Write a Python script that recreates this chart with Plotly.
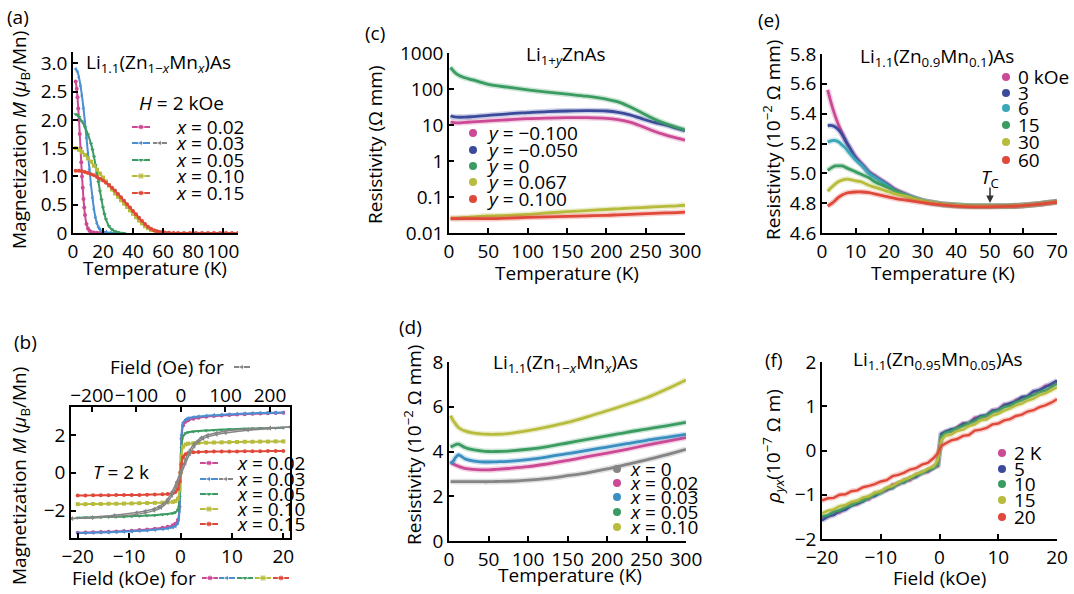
import plotly.graph_objects as go

FONT = "Open Sans"
FS = 19
W, H = 1074, 594

# ---------------- colours ----------------
C_MAG = "#cc4a95"
C_BLUE = "#4b8fd1"
C_GREEN = "#3b9c62"
C_OLIVE = "#b8bc3c"
C_RED = "#e0483a"
C_GREY = "#858585"
C_NAVY = "#3c4a9c"
C_TEAL = "#3aa6b8"
C_STEEL = "#3a8fc0"

# ---------------- (a) M vs T, H = 2 kOe ----------------
T_a_002 = [1.8, 2.5, 3, 3.5, 4, 4.5, 5, 5.5, 6, 6.5, 7, 7.5, 8, 9, 10, 11, 12, 14, 16, 18, 20]
M_a_002 = [2.68, 2.55, 2.4, 2.2, 2.0, 1.75, 1.5, 1.25, 1.0, 0.8, 0.6, 0.45, 0.32, 0.16, 0.08, 0.04, 0.02, 0.01, 0.005, 0.0, 0.0]
T_a_003 = [1.8, 3, 4, 5, 6, 7, 8, 9, 10, 11, 12, 13, 14, 15, 16, 17, 18, 20, 22, 25, 28]
M_a_003 = [2.9, 2.85, 2.75, 2.6, 2.42, 2.2, 1.95, 1.68, 1.4, 1.12, 0.85, 0.62, 0.42, 0.27, 0.17, 0.1, 0.06, 0.03, 0.015, 0.005, 0.0]
T_a_005 = [1.8, 3, 4, 6, 8, 10, 12, 13, 14, 15, 16, 17, 18, 19, 20, 21, 22, 24, 26, 28, 30, 34]
M_a_005 = [2.1, 2.08, 2.05, 1.97, 1.87, 1.74, 1.58, 1.47, 1.35, 1.2, 1.05, 0.9, 0.74, 0.59, 0.45, 0.33, 0.24, 0.12, 0.06, 0.03, 0.015, 0.0]
T_a_010 = [1.8, 4, 6, 8, 10, 12, 14, 16, 18, 20, 22, 24, 26, 28, 30, 32, 34, 36, 38, 40, 42, 44, 46, 48, 50, 52, 55, 58, 62]
M_a_010 = [1.5, 1.47, 1.43, 1.38, 1.32, 1.26, 1.19, 1.12, 1.05, 0.98, 0.91, 0.84, 0.77, 0.7, 0.64, 0.58, 0.52, 0.46, 0.4, 0.34, 0.28, 0.22, 0.17, 0.12, 0.085, 0.055, 0.03, 0.012, 0.0]
T_a_015 = [1.8, 4, 6, 8, 10, 12, 14, 16, 18, 20, 22, 24, 26, 28, 30, 32, 34, 36, 38, 40, 42, 44, 46, 48, 50, 52, 54, 56, 58, 61, 64, 67, 70, 74, 78, 82, 86, 90, 94, 98, 102, 106, 110]
M_a_015 = [1.1, 1.1, 1.09, 1.08, 1.06, 1.04, 1.02, 0.99, 0.96, 0.93, 0.89, 0.85, 0.8, 0.75, 0.69, 0.63, 0.57, 0.51, 0.45, 0.39, 0.33, 0.27, 0.21, 0.16, 0.11, 0.075, 0.05, 0.03, 0.018, 0.008, 0.003, 0, 0, 0, 0, 0, 0, 0, 0, 0, 0, 0, 0]

# ---------------- (b) M vs H at T = 2 K ----------------
H_b = [-20, -18.5, -17, -15.5, -14, -12.5, -11, -9.5, -8, -6.5, -5, -3.5, -2.5, -1.5, -1, -0.5, -0.2, 0,
       0.2, 0.5, 1, 1.5, 2.5, 3.5, 5, 6.5, 8, 9.5, 11, 12.5, 14, 15.5, 17, 18.5, 20]
M_b_002 = [-3.17, -3.16, -3.15, -3.13, -3.12, -3.1, -3.08, -3.06, -3.03, -3.0, -2.96, -2.91, -2.86, -2.78, -2.7, -2.5, -1.8, 0,
           1.8, 2.5, 2.7, 2.78, 2.86, 2.91, 2.96, 3.0, 3.03, 3.06, 3.08, 3.1, 3.12, 3.13, 3.15, 3.16, 3.17]
M_b_003 = [-3.19, -3.18, -3.17, -3.16, -3.15, -3.13, -3.11, -3.09, -3.07, -3.05, -3.02, -2.98, -2.94, -2.88, -2.82, -2.65, -2.0, 0,
           2.0, 2.65, 2.82, 2.88, 2.94, 2.98, 3.02, 3.05, 3.07, 3.09, 3.11, 3.13, 3.15, 3.16, 3.17, 3.18, 3.19]
M_b_005 = [-2.38, -2.37, -2.36, -2.35, -2.34, -2.33, -2.32, -2.3, -2.28, -2.26, -2.24, -2.21, -2.18, -2.14, -2.09, -1.95, -1.3, 0,
           1.3, 1.95, 2.09, 2.14, 2.18, 2.21, 2.24, 2.26, 2.28, 2.3, 2.32, 2.33, 2.34, 2.35, 2.36, 2.37, 2.38]
M_b_010 = [-1.66, -1.66, -1.65, -1.65, -1.64, -1.64, -1.63, -1.62, -1.61, -1.6, -1.59, -1.58, -1.56, -1.54, -1.5, -1.38, -0.9, 0,
           0.9, 1.38, 1.5, 1.54, 1.56, 1.58, 1.59, 1.6, 1.61, 1.62, 1.63, 1.64, 1.64, 1.65, 1.65, 1.66, 1.66]
M_b_015 = [-1.2, -1.2, -1.19, -1.19, -1.19, -1.18, -1.18, -1.17, -1.17, -1.16, -1.15, -1.14, -1.12, -1.08, -1.02, -0.85, -0.45, 0,
           0.45, 0.82, 0.98, 1.04, 1.08, 1.1, 1.11, 1.12, 1.12, 1.13, 1.13, 1.14, 1.14, 1.14, 1.15, 1.15, 1.15]
# x = 0.03 loop on the Oe scale (descending and ascending branches)
H_oe_down = [245, 200, 150, 100, 80, 60, 45, 30, 20, 10, 0, -10, -20, -30, -40, -50, -60, -80, -100, -150, -200, -245]
M_oe_down = [2.42, 2.38, 2.31, 2.2, 2.12, 2.0, 1.85, 1.55, 1.2, 0.7, 0.1, -0.5, -1.0, -1.4, -1.65, -1.8, -1.9, -2.02, -2.1, -2.25, -2.35, -2.42]
H_oe_up = [-245, -200, -150, -100, -80, -60, -45, -30, -20, -10, 0, 10, 20, 30, 40, 50, 60, 80, 100, 150, 200, 245]
M_oe_up = [-2.42, -2.38, -2.31, -2.2, -2.12, -2.0, -1.85, -1.55, -1.2, -0.7, -0.1, 0.5, 1.0, 1.4, 1.65, 1.8, 1.9, 2.02, 2.1, 2.25, 2.35, 2.42]

# ---------------- (c) Li1+yZnAs resistivity ----------------
T_c = [2, 5, 10, 20, 30, 50, 75, 100, 125, 150, 175, 200, 215, 230, 245, 260, 275, 290, 300]
R_c_m0100 = [12, 11.8, 11.5, 11.8, 12.2, 13, 14, 15, 15.6, 16, 16, 15.3, 14, 12, 9.2, 6.8, 5.3, 4.3, 3.8]
R_c_m0050 = [18, 17, 16.5, 16.5, 17, 18.5, 20.5, 22, 23.5, 24.5, 25, 24.5, 22.5, 19, 15, 12, 10, 8, 7]
R_c_0 = [400, 330, 260, 205, 180, 135, 112, 95, 82, 72, 63, 52, 44, 32, 22, 15, 11, 8.5, 7.3]
R_c_0067 = [0.026, 0.026, 0.026, 0.027, 0.028, 0.03, 0.031, 0.033, 0.036, 0.039, 0.042, 0.045, 0.047, 0.049, 0.051, 0.053, 0.055, 0.057, 0.059]
R_c_0100 = [0.025, 0.025, 0.025, 0.025, 0.025, 0.025, 0.026, 0.027, 0.028, 0.029, 0.03, 0.031, 0.032, 0.033, 0.034, 0.035, 0.036, 0.037, 0.038]

# ---------------- (d) Li1.1(Zn1-xMnx)As resistivity ----------------
T_d = [2, 5, 8, 10, 12, 15, 20, 30, 40, 50, 60, 75, 100, 125, 150, 175, 200, 225, 250, 275, 300]
R_d_0 = [2.65, 2.65, 2.65, 2.65, 2.65, 2.65, 2.65, 2.65, 2.65, 2.65, 2.66, 2.67, 2.72, 2.8, 2.92, 3.05, 3.22, 3.42, 3.63, 3.85, 4.1]
R_d_002 = [3.55, 3.45, 3.4, 3.37, 3.34, 3.3, 3.25, 3.2, 3.18, 3.18, 3.2, 3.24, 3.32, 3.45, 3.6, 3.77, 3.93, 4.1, 4.28, 4.45, 4.62]
R_d_003 = [3.45, 3.55, 3.72, 3.8, 3.85, 3.8, 3.68, 3.58, 3.54, 3.53, 3.54, 3.56, 3.64, 3.76, 3.9, 4.05, 4.2, 4.35, 4.5, 4.63, 4.77]
R_d_005 = [4.2, 4.25, 4.3, 4.33, 4.33, 4.28, 4.18, 4.08, 4.03, 4.0, 4.0, 4.02, 4.1, 4.22, 4.38, 4.54, 4.7, 4.86, 5.0, 5.15, 5.3]
R_d_010 = [5.6, 5.4, 5.25, 5.15, 5.07, 5.0, 4.92, 4.83, 4.79, 4.77, 4.77, 4.8, 4.93, 5.1, 5.3, 5.55, 5.82, 6.1, 6.4, 6.78, 7.2]

# ---------------- (e) Li1.1(Zn0.9Mn0.1)As in field ----------------
T_e = [1.7, 3, 4, 5, 6, 7, 8, 10, 12, 14, 16, 18, 20, 22, 25, 28, 31, 35, 40, 45, 50, 55, 60, 65, 70]
R_e_0 = [5.56, 5.45, 5.38, 5.32, 5.27, 5.22, 5.18, 5.11, 5.06, 5.01, 4.98, 4.95, 4.92, 4.89, 4.86, 4.83, 4.81, 4.795, 4.785, 4.78, 4.78, 4.78, 4.785, 4.795, 4.81]
R_e_3 = [5.32, 5.32, 5.31, 5.29, 5.26, 5.22, 5.18, 5.105, 5.055, 5.005, 4.975, 4.945, 4.915, 4.885, 4.855, 4.83, 4.81, 4.795, 4.785, 4.78, 4.78, 4.78, 4.785, 4.795, 4.81]
R_e_6 = [5.21, 5.22, 5.22, 5.21, 5.19, 5.17, 5.14, 5.09, 5.05, 5.0, 4.97, 4.94, 4.91, 4.88, 4.855, 4.83, 4.81, 4.795, 4.785, 4.78, 4.78, 4.78, 4.785, 4.795, 4.81]
R_e_15 = [5.02, 5.04, 5.05, 5.05, 5.05, 5.04, 5.03, 5.01, 4.99, 4.97, 4.94, 4.92, 4.9, 4.88, 4.85, 4.83, 4.81, 4.795, 4.785, 4.78, 4.78, 4.78, 4.785, 4.795, 4.81]
R_e_30 = [4.88, 4.91, 4.93, 4.945, 4.955, 4.96, 4.96, 4.95, 4.94, 4.92, 4.905, 4.89, 4.875, 4.86, 4.845, 4.825, 4.81, 4.795, 4.785, 4.78, 4.78, 4.78, 4.785, 4.795, 4.81]
R_e_60 = [4.78, 4.8, 4.82, 4.84, 4.855, 4.865, 4.87, 4.875, 4.875, 4.87, 4.86, 4.85, 4.84, 4.83, 4.82, 4.81, 4.8, 4.79, 4.78, 4.775, 4.775, 4.778, 4.783, 4.793, 4.808]

# ---------------- (f) Hall resistivity ----------------
H_f = [-20, -19, -18, -17, -16, -15, -14, -13, -12, -11, -10, -9, -8, -7, -6, -5, -4, -3, -2, -1, -0.3,
       0.3, 1, 2, 3, 4, 5, 6, 7, 8, 9, 10, 11, 12, 13, 14, 15, 16, 17, 18, 19, 20]
P_f_2 = [-1.51, -1.50, -1.38, -1.40, -1.29, -1.21, -1.21, -1.10, -1.10, -0.97, -0.94, -0.90, -0.77, -0.77, -0.66, -0.67, -0.55, -0.50, -0.48, -0.36, -0.35,
         0.35, 0.42, 0.42, 0.53, 0.61, 0.61, 0.74, 0.74, 0.78, 0.90, 0.92, 1.04, 1.02, 1.14, 1.19, 1.21, 1.33, 1.34, 1.46, 1.47, 1.54]
P_f_5 = [-1.58, -1.49, -1.46, -1.37, -1.34, -1.25, -1.20, -1.15, -1.05, -1.03, -0.95, -0.88, -0.85, -0.74, -0.72, -0.62, -0.60, -0.50, -0.47, -0.40, -0.33,
         0.38, 0.43, 0.48, 0.50, 0.60, 0.62, 0.70, 0.78, 0.80, 0.90, 0.92, 1.02, 1.07, 1.11, 1.21, 1.23, 1.33, 1.37, 1.43, 1.51, 1.58]
P_f_10 = [-1.49, -1.46, -1.38, -1.35, -1.28, -1.24, -1.17, -1.13, -1.07, -0.99, -0.96, -0.86, -0.83, -0.74, -0.70, -0.63, -0.56, -0.52, -0.44, -0.40, -0.32,
          0.32, 0.40, 0.44, 0.51, 0.55, 0.62, 0.66, 0.75, 0.78, 0.86, 0.90, 0.98, 1.01, 1.09, 1.13, 1.20, 1.25, 1.32, 1.35, 1.44, 1.51]
P_f_15 = [-1.42, -1.36, -1.33, -1.26, -1.23, -1.16, -1.13, -1.06, -1.03, -0.95, -0.92, -0.84, -0.80, -0.72, -0.66, -0.61, -0.53, -0.49, -0.41, -0.36, -0.22,
          0.23, 0.33, 0.36, 0.44, 0.47, 0.55, 0.59, 0.68, 0.70, 0.79, 0.83, 0.90, 0.95, 1.02, 1.06, 1.13, 1.17, 1.25, 1.29, 1.36, 1.43]
P_f_20 = [-1.13, -1.08, -1.07, -1.00, -0.99, -0.92, -0.90, -0.83, -0.80, -0.76, -0.70, -0.67, -0.58, -0.55, -0.50, -0.43, -0.40, -0.32, -0.28, -0.17, -0.06,
          0.10, 0.16, 0.23, 0.26, 0.33, 0.35, 0.45, 0.47, 0.51, 0.59, 0.61, 0.68, 0.71, 0.78, 0.81, 0.88, 0.91, 0.98, 1.02, 1.08, 1.16]

# ---------------- labels ----------------
X_LABELS = ["<i>x</i> = 0.02", "<i>x</i> = 0.03", "<i>x</i> = 0.05", "<i>x</i> = 0.10", "<i>x</i> = 0.15"]
Y_LABELS = ["<i>y</i> = −0.100", "<i>y</i> = −0.050", "<i>y</i> = 0", "<i>y</i> = 0.067", "<i>y</i> = 0.100"]
D_LABELS = ["<i>x</i> = 0", "<i>x</i> = 0.02", "<i>x</i> = 0.03", "<i>x</i> = 0.05", "<i>x</i> = 0.10"]
E_LABELS = ["0 kOe", "3", "6", "15", "30", "60"]
F_LABELS = ["2 K", "5", "10", "15", "20"]

MN_COLORS = [C_MAG, C_BLUE, C_GREEN, C_OLIVE, C_RED]
MN_SYMBOLS = ["circle", "triangle-left", "triangle-down", "square", "circle"]

fig = go.Figure()


def px_x(p):
    return p / W


def px_y(p):
    return 1 - p / H


def axis(x0, x1, **kw):
    d = dict(domain=[px_x(x0), px_x(x1)], showline=True, linecolor="black", linewidth=1.5,
             ticks="inside", ticklen=5, tickwidth=1.5, tickcolor="black", showgrid=False,
             zeroline=False, automargin=False, tickangle=0,
             tickfont=dict(size=FS, color="black", family=FONT), fixedrange=True)
    d.update(kw)
    return d


def yaxis(y0, y1, **kw):
    d = dict(domain=[px_y(y1), px_y(y0)], showline=True, linecolor="black", linewidth=1.5,
             ticks="inside", ticklen=5, tickwidth=1.5, tickcolor="black", showgrid=False,
             zeroline=False, automargin=False,
             tickfont=dict(size=FS, color="black", family=FONT), fixedrange=True)
    d.update(kw)
    return d


def soft_line(x, y, color, xa, ya, width=2.8, shape="spline"):
    # faint wide stroke under the curve, then the curve itself
    fig.add_trace(go.Scatter(x=x, y=y, mode="lines", opacity=0.25,
                             line=dict(color=color, width=width + 3, shape=shape), xaxis=xa, yaxis=ya))
    fig.add_trace(go.Scatter(x=x, y=y, mode="lines",
                             line=dict(color=color, width=width, shape=shape), xaxis=xa, yaxis=ya))


# (a)
for T, M, c, s in zip([T_a_002, T_a_003, T_a_005, T_a_010, T_a_015],
                      [M_a_002, M_a_003, M_a_005, M_a_010, M_a_015], MN_COLORS, MN_SYMBOLS):
    fig.add_trace(go.Scatter(x=T, y=M, mode="lines+markers", line=dict(color=c, width=2, shape="spline"),
                             marker=dict(symbol=s, size=4, color=c), xaxis="x", yaxis="y"))

# (b)
for Hx, M in [(H_oe_down, M_oe_down), (H_oe_up, M_oe_up)]:
    fig.add_trace(go.Scatter(x=Hx, y=M, mode="lines+markers", line=dict(color=C_GREY, width=1.5, shape="spline"),
                             marker=dict(symbol="triangle-left", size=4, color=C_GREY), xaxis="x8", yaxis="y2"))
for M, c, s in zip([M_b_002, M_b_003, M_b_005, M_b_010, M_b_015], MN_COLORS, MN_SYMBOLS):
    fig.add_trace(go.Scatter(x=H_b, y=M, mode="lines+markers", line=dict(color=c, width=2, shape="spline"),
                             marker=dict(symbol=s, size=4, color=c), xaxis="x2", yaxis="y2"))

# (c)
C_COLORS = [C_MAG, C_NAVY, C_GREEN, C_OLIVE, C_RED]
for R, c in zip([R_c_m0100, R_c_m0050, R_c_0, R_c_0067, R_c_0100], C_COLORS):
    soft_line(T_c, R, c, "x3", "y3")

# (d)
D_COLORS = [C_GREY, C_MAG, C_STEEL, C_GREEN, C_OLIVE]
for R, c in zip([R_d_0, R_d_002, R_d_003, R_d_005, R_d_010], D_COLORS):
    soft_line(T_d, R, c, "x4", "y4")

# (e)
E_COLORS = [C_MAG, C_NAVY, C_TEAL, C_GREEN, C_OLIVE, C_RED]
for R, c in zip([R_e_0, R_e_3, R_e_6, R_e_15, R_e_30, R_e_60], E_COLORS):
    soft_line(T_e, R, c, "x5", "y5")

# (f)
F_COLORS = [C_MAG, C_NAVY, C_GREEN, C_OLIVE, C_RED]
for P, c in zip([P_f_2, P_f_5, P_f_10, P_f_15, P_f_20], F_COLORS):
    soft_line(H_f, P, c, "x6", "y6", width=2.4, shape="linear")

# ---------------- legend glyphs on a pixel canvas ----------------
def glyph(xc, yc, color, symbol, half=9):
    fig.add_trace(go.Scatter(x=[xc - half, xc, xc + half], y=[yc, yc, yc], mode="lines+markers",
                             line=dict(color=color, width=2),
                             marker=dict(symbol=symbol, size=[0, 6, 0], color=color),
                             xaxis="x7", yaxis="y7"))


def dot(xc, yc, color):
    fig.add_trace(go.Scatter(x=[xc], y=[yc], mode="markers", marker=dict(size=8, color=color),
                             xaxis="x7", yaxis="y7"))


ann = []


def txt(x, y, s, xanchor="left", size=FS, angle=0):
    ann.append(dict(x=x, y=y, xref="x7", yref="y7", text=s, showarrow=False, xanchor=xanchor,
                    yanchor="middle", textangle=angle, borderpad=0,
                    font=dict(size=size, color="black", family=FONT)))


A_ROWS = [127, 143, 160, 176, 193]
for i, (c, s) in enumerate(zip(MN_COLORS, MN_SYMBOLS)):
    glyph(141, A_ROWS[i], c, s)
    txt(175, A_ROWS[i], X_LABELS[i])
glyph(160, A_ROWS[1], C_GREY, "triangle-left", half=7)

B_ROWS = [463, 479, 494, 509, 524]
for i, (c, s) in enumerate(zip(MN_COLORS, MN_SYMBOLS)):
    glyph(209, B_ROWS[i], c, s)
    txt(236, B_ROWS[i], X_LABELS[i])
glyph(226, B_ROWS[1], C_GREY, "triangle-left", half=7)
glyph(242, 367, C_GREY, "triangle-left", half=8)
for xc, c, s in zip([210, 227, 245, 263, 281], MN_COLORS, MN_SYMBOLS):
    glyph(xc, 578, c, s, half=8)

C_ROWS = [133, 150, 166, 182, 199]
for i, c in enumerate(C_COLORS):
    dot(473, C_ROWS[i], c)
    txt(486, C_ROWS[i], Y_LABELS[i])

D_ROWS = [469, 483, 497, 512, 527]
for i, c in enumerate(D_COLORS):
    dot(617, D_ROWS[i], c)
    txt(629, D_ROWS[i], D_LABELS[i])

E_ROWS = [77, 93, 108, 125, 142, 160]
for i, c in enumerate(E_COLORS):
    dot(1006, E_ROWS[i], c)
    txt(1017, E_ROWS[i], E_LABELS[i])

F_ROWS = [453, 469, 484, 500, 517]
for i, c in enumerate(F_COLORS):
    dot(1002, F_ROWS[i], c)
    txt(1013, F_ROWS[i], F_LABELS[i])

# panel letters
txt(6, 17, "(a)")
txt(13, 342, "(b)")
txt(364, 33, "(c)")
txt(398, 327, "(d)")
txt(757, 20, "(e)")
txt(764, 360, "(f)")

# in-panel titles
LI11 = "Li<sub>1.1</sub>(Zn<sub>1−<i>x</i></sub>Mn<sub><i>x</i></sub>)As"
txt(85, 63, LI11)
txt(138, 103, "<i>H</i> = 2 kOe")
txt(92, 472, "<i>T</i> = 2 k")
txt(566, 55, "Li<sub>1+<i>y</i></sub>ZnAs", xanchor="center")
txt(565, 363, LI11, xanchor="center")
txt(937, 57, "Li<sub>1.1</sub>(Zn<sub>0.9</sub>Mn<sub>0.1</sub>)As", xanchor="center")
txt(938, 360, "Li<sub>1.1</sub>(Zn<sub>0.95</sub>Mn<sub>0.05</sub>)As", xanchor="center")
txt(990, 178, "<i>T</i><sub>C</sub>", xanchor="center")
ann.append(dict(x=990, y=203, xref="x7", yref="y7", ax=990, ay=186, axref="x7", ayref="y7",
                text="", showarrow=True, arrowhead=2, arrowsize=1, arrowwidth=1.5, arrowcolor="#333333"))

# axis titles
txt(155, 268, "Temperature (K)", xanchor="center")
txt(567, 273, "Temperature (K)", xanchor="center")
txt(570, 575, "Temperature (K)", xanchor="center")
txt(943, 273, "Temperature (K)", xanchor="center")
txt(939, 578, "Field (kOe)", xanchor="center")
txt(167, 367, "Field (Oe) for", xanchor="center")
txt(134, 578, "Field (kOe) for", xanchor="center")
txt(20, 140, "Magnetization <i>M</i> (<i>μ</i><sub>B</sub>/Mn)", xanchor="center", angle=-90)
txt(20, 476, "Magnetization <i>M</i> (<i>μ</i><sub>B</sub>/Mn)", xanchor="center", angle=-90)
txt(375, 145, "Resistivity (Ω mm)", xanchor="center", angle=-90)
txt(413, 445, "Resistivity (10<sup>−2</sup> Ω mm)", xanchor="center", angle=-90)
txt(772, 140, "Resistivity (10<sup>−2</sup> Ω mm)", xanchor="center", angle=-90)
txt(773, 447, "<i>ρ</i><sub><i>yx</i></sub>(10<sup>−7</sup> Ω m)", xanchor="center", angle=-90)

fig.update_layout(
    template="none",
    width=W, height=H, margin=dict(l=0, r=0, t=0, b=0, autoexpand=False),
    paper_bgcolor="white", plot_bgcolor="rgba(0,0,0,0)", showlegend=False,
    font=dict(family=FONT, size=FS, color="black"),
    annotations=ann,
    # (a)
    xaxis=axis(73, 238, anchor="y", range=[0, 110], tickvals=[0, 20, 40, 60, 80, 100]),
    yaxis=yaxis(52, 233, anchor="x", range=[0, 3.2], tickvals=[0, 0.5, 1, 1.5, 2, 2.5, 3],
                ticktext=["0", "0.5", "1.0", "1.5", "2.0", "2.5", "3.0"]),
    # (b)
    xaxis2=axis(71, 290, anchor="y2", range=[-21.3, 21.3], tickvals=[-20, -10, 0, 10, 20], mirror=True),
    yaxis2=yaxis(407, 538, anchor="x2", range=[-3.45, 3.48], tickvals=[-2, 0, 2], mirror=True),
    xaxis8=dict(overlaying="x2", side="top", anchor="y2", range=[-247, 245],
                tickvals=[-200, -100, 0, 100, 200], ticks="inside", ticklen=5, tickwidth=1.5,
                tickcolor="black", showline=False, showgrid=False, zeroline=False, automargin=False,
                tickangle=0, tickfont=dict(size=FS, color="black", family=FONT), fixedrange=True),
    # (c)
    xaxis3=axis(449, 685, anchor="y3", range=[0, 300], tickvals=[0, 50, 100, 150, 200, 250, 300]),
    yaxis3=yaxis(53, 233, anchor="x3", type="log", range=[-2, 3],
                 tickvals=[0.01, 0.1, 1, 10, 100, 1000], ticktext=["0.01", "0.1", "1", "10", "100", "1000"]),
    # (d)
    xaxis4=axis(449, 686, anchor="y4", range=[0, 300], tickvals=[0, 50, 100, 150, 200, 250, 300]),
    yaxis4=yaxis(362, 541, anchor="x4", range=[0, 8], tickvals=[0, 2, 4, 6, 8]),
    # (e)
    xaxis5=axis(822, 1057, anchor="y5", range=[0, 70], tickvals=[0, 10, 20, 30, 40, 50, 60, 70]),
    yaxis5=yaxis(54, 233, anchor="x5", range=[4.6, 5.8], tickvals=[4.6, 4.8, 5.0, 5.2, 5.4, 5.6, 5.8],
                 ticktext=["4.6", "4.8", "5.0", "5.2", "5.4", "5.6", "5.8"]),
    # (f)
    xaxis6=axis(822, 1057, anchor="y6", range=[-20, 20], tickvals=[-20, -10, 0, 10, 20]),
    yaxis6=yaxis(362, 539, anchor="x6", range=[-2, 2], tickvals=[-2, -1, 0, 1, 2]),
    # pixel canvas for keys and labels
    xaxis7=dict(domain=[0, 1], range=[0, W], visible=False, fixedrange=True, anchor="y7", automargin=False),
    yaxis7=dict(domain=[0, 1], range=[H, 0], visible=False, fixedrange=True, anchor="x7", automargin=False),
)

fig.write_html("out.html")
